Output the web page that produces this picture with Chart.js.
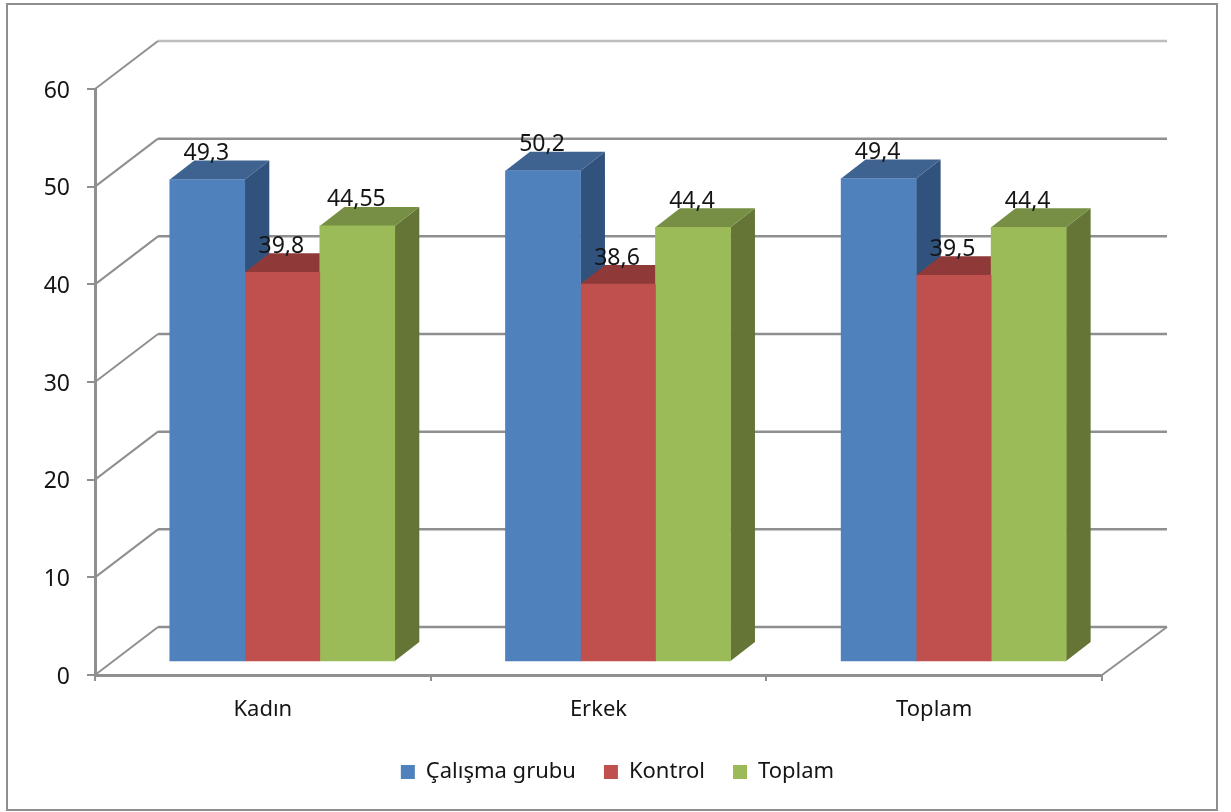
<!DOCTYPE html>
<html>
<head>
<meta charset="utf-8">
<style>
  html, body { margin: 0; padding: 0; background: #fff; }
  #wrap { position: relative; width: 1231px; height: 812px; }
</style>
<script src="https://cdn.jsdelivr.net/npm/chart.js@4"></script>
</head>
<body>
<div id="wrap"><canvas id="chart"></canvas></div>
<script>
const categories = ['Kadın', 'Erkek', 'Toplam'];
const calismaGrubu = [49.3, 50.2, 49.4];
const kontrol = [39.8, 38.6, 39.5];
const toplam = [44.55, 44.4, 44.4];
const yMax = 60;
const yStep = 10;

const fontFamily = '"Noto Sans", sans-serif';
const textColor = '#151515';
const axisColor = '#8f8f8f';

// oblique offset of the back wall and of each bar's depth
const wallDepth = { x: 63, y: -48 };
const barDepth = { x: 24.5, y: -19 };

// the bars stand a little inside the floor, so they get their own shifted axes
const barLift = 1.433;
const barShift = 0.058;

const toSeries = values => values.map((v, i) => ({ x: i, y: v }));

const datasets = [
  { label: 'Çalışma grubu', data: toSeries(calismaGrubu), backgroundColor: '#4f81bd', topColor: '#3e6391', sideColor: '#30527c' },
  { label: 'Kontrol', data: toSeries(kontrol), backgroundColor: '#c0504d', topColor: '#8f3a38', sideColor: '#7d302e' },
  { label: 'Toplam', data: toSeries(toplam), backgroundColor: '#9bbb59', topColor: '#778f45', sideColor: '#647535' },
].map(d => ({ ...d, xAxisID: 'xBars', yAxisID: 'yBars', borderWidth: 0, barThickness: 75 }));

function fillShape(ctx, color, pts) {
  ctx.fillStyle = color;
  ctx.beginPath();
  pts.forEach((p, i) => (i ? ctx.lineTo(p[0], p[1]) : ctx.moveTo(p[0], p[1])));
  ctx.closePath();
  ctx.fill();
}

// outer frame and the back wall grid
const wallPlugin = {
  id: 'wall',
  beforeDraw(chart) {
    const { ctx, scales } = chart;
    const area = chart.chartArea;
    ctx.save();
    ctx.fillStyle = '#fff';
    ctx.fillRect(0, 0, chart.width, chart.height);
    ctx.strokeStyle = '#8e8e8e';
    ctx.lineWidth = 2;
    ctx.strokeRect(7, 4, 1210, 806);

    for (let v = 0; v <= yMax; v += yStep) {
      const y = scales.y.getPixelForValue(v);
      ctx.strokeStyle = v === yMax ? '#bdbdbd' : axisColor;
      ctx.lineWidth = 2.5;
      ctx.beginPath();
      ctx.moveTo(area.left + wallDepth.x, y + wallDepth.y);
      ctx.lineTo(area.right + wallDepth.x + 2, y + wallDepth.y);
      ctx.stroke();
      ctx.strokeStyle = axisColor;
      ctx.lineWidth = 2;
      ctx.beginPath();
      ctx.moveTo(area.left, y);
      ctx.lineTo(area.left + wallDepth.x, y + wallDepth.y);
      ctx.stroke();
    }
    ctx.beginPath();
    ctx.moveTo(area.right, area.bottom);
    ctx.lineTo(area.right + wallDepth.x + 2, area.bottom + wallDepth.y);
    ctx.stroke();
    ctx.restore();
  },
};

// top and side faces, left to right, all behind the front faces the library paints
const depthPlugin = {
  id: 'depth',
  beforeDatasetsDraw(chart) {
    const { ctx } = chart;
    chart.data.datasets.forEach((ds, i) => {
      chart.getDatasetMeta(i).data.forEach(bar => {
        const p = bar.getProps(['x', 'y', 'base', 'width'], true);
        const l = p.x - p.width / 2;
        const r = p.x + p.width / 2;
        const dx = barDepth.x;
        const dy = barDepth.y;
        fillShape(ctx, ds.sideColor, [[r, p.y], [r + dx, p.y + dy], [r + dx, p.base + dy], [r, p.base]]);
        fillShape(ctx, ds.topColor, [[l, p.y], [l + dx, p.y + dy], [r + dx, p.y + dy], [r, p.y]]);
      });
    });
  },
};

// value labels sit above the top face, decimal comma
const valueLabelPlugin = {
  id: 'valueLabels',
  afterDatasetsDraw(chart) {
    const { ctx } = chart;
    ctx.save();
    ctx.font = '23px ' + fontFamily;
    ctx.fillStyle = textColor;
    ctx.textAlign = 'center';
    ctx.textBaseline = 'middle';
    chart.data.datasets.forEach((ds, i) => {
      chart.getDatasetMeta(i).data.forEach((bar, j) => {
        const text = String(ds.data[j].y).replace('.', ',');
        ctx.fillText(text, bar.x - 1, bar.y - 26);
      });
    });
    ctx.restore();
  },
};

new Chart(document.getElementById('chart'), {
  type: 'bar',
  data: { labels: categories, datasets },
  plugins: [wallPlugin, depthPlugin, valueLabelPlugin],
  options: {
    responsive: true,
    maintainAspectRatio: false,
    animation: false,
    layout: { padding: { left: 4, top: 89, right: 0, bottom: 19 } },
    plugins: {
      tooltip: { enabled: false },
      legend: {
        position: 'bottom',
        labels: {
          boxWidth: 14,
          boxHeight: 14,
          padding: 28,
          color: textColor,
          font: { family: fontFamily, size: 22 },
        },
      },
    },
    scales: {
      x: {
        type: 'category',
        offset: true,
        grid: { offset: true, drawOnChartArea: false, color: axisColor, lineWidth: 2, tickLength: 6 },
        border: { color: axisColor, width: 3 },
        ticks: { color: textColor, padding: 16, maxRotation: 0, font: { family: fontFamily, size: 22 } },
        afterFit(scale) { scale.height = 58; },
      },
      y: {
        min: 0,
        max: yMax,
        grid: { drawOnChartArea: false, color: axisColor, lineWidth: 2, tickLength: 8 },
        border: { color: axisColor, width: 3 },
        ticks: { stepSize: yStep, color: textColor, padding: 17, labelOffset: 2, font: { family: fontFamily, size: 23 } },
        afterFit(scale) { scale.width = 91; },
      },
      xBars: {
        type: 'linear',
        display: false,
        offset: false,
        min: -0.5 - barShift,
        max: categories.length - 0.5 - barShift,
      },
      yBars: {
        position: 'right',
        min: -barLift,
        max: yMax - barLift,
        grid: { display: false },
        border: { display: false },
        ticks: { display: false },
        afterFit(scale) { scale.width = 129; },
      },
    },
  },
});
</script>
</body>
</html>
